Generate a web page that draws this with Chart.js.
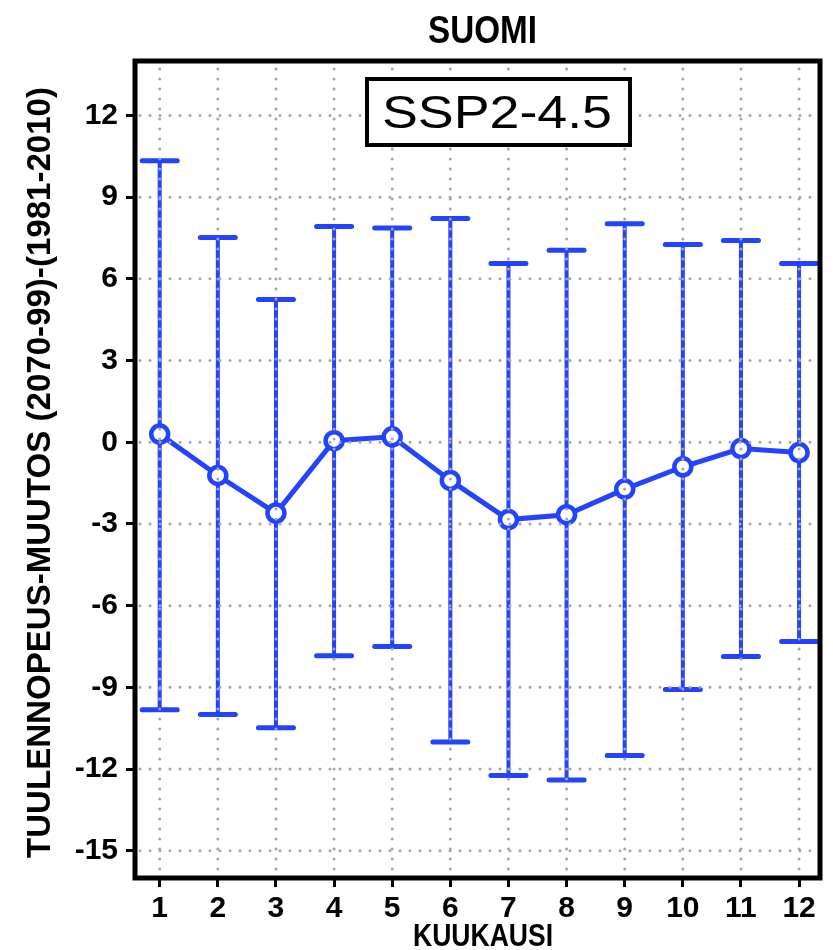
<!DOCTYPE html>
<html>
<head>
<meta charset="utf-8">
<script src="https://cdn.jsdelivr.net/npm/chart.js@4"></script>
<style>
  html, body { margin: 0; padding: 0; background: #fff; }
  canvas { display: block; }
</style>
</head>
<body>
<canvas id="c" width="833" height="950"></canvas>
<script>
// ---- data ----
const months = [1, 2, 3, 4, 5, 6, 7, 8, 9, 10, 11, 12];
const meanChange = [0.3, -1.22, -2.6, 0.06, 0.2, -1.4, -2.84, -2.66, -1.72, -0.9, -0.23, -0.38];
const upperLimit = [10.34, 7.52, 5.24, 7.92, 7.87, 8.22, 6.56, 7.05, 8.02, 7.26, 7.41, 6.56];
const lowerLimit = [-9.82, -10.0, -10.48, -7.84, -7.5, -11.01, -12.24, -12.4, -11.5, -9.08, -7.87, -7.32];
const yTickValues = [-15, -12, -9, -6, -3, 0, 3, 6, 9, 12];
const titleText = 'SUOMI';
const scenarioText = 'SSP2-4.5';
const xTitle = 'KUUKAUSI';
const yTitle = 'TUULENNOPEUS-MUUTOS (2070-99)-(1981-2010)';

const BLUE = '#2443ff';
const GRID = '#a6a6a6';
const FONT = "'Liberation Sans Narrow', 'Liberation Sans', Arial, sans-serif";

function fitText(ctx, text, cx, baseY, targetW, font, rotate) {
  ctx.save();
  ctx.font = font;
  const w = ctx.measureText(text).width;
  ctx.translate(cx, baseY);
  if (rotate) ctx.rotate(-Math.PI / 2);
  ctx.scale(targetW / w, 1);
  ctx.textAlign = 'center';
  ctx.textBaseline = 'alphabetic';
  ctx.fillStyle = '#000';
  ctx.fillText(text, 0, 0);
  ctx.restore();
}

const errorBars = {
  id: 'errorBars',
  beforeDatasetsDraw(chart) {
    const { ctx, scales: { x, y } } = chart;
    ctx.save();
    ctx.strokeStyle = BLUE;
    months.forEach((m, i) => {
      const px = x.getPixelForValue(m);
      const hi = y.getPixelForValue(upperLimit[i]);
      const lo = y.getPixelForValue(lowerLimit[i]);
      ctx.lineCap = 'butt';
      ctx.lineWidth = 4;
      ctx.beginPath();
      ctx.moveTo(px, hi);
      ctx.lineTo(px, lo);
      ctx.stroke();
      ctx.lineCap = 'round';
      ctx.lineWidth = 5;
      ctx.beginPath();
      ctx.moveTo(px - 17.5, hi); ctx.lineTo(px + 17.5, hi);
      ctx.moveTo(px - 17.5, lo); ctx.lineTo(px + 17.5, lo);
      ctx.stroke();
    });
    ctx.restore();
  }
};

const overlay = {
  id: 'overlay',
  afterDatasetsDraw(chart) {
    const { ctx, chartArea: a, scales: { x, y } } = chart;
    // dotted grid on top
    ctx.save();
    ctx.beginPath();
    ctx.rect(a.left, a.top, a.right - a.left, a.bottom - a.top);
    ctx.clip();
    ctx.strokeStyle = GRID;
    ctx.lineWidth = 3;
    ctx.lineCap = 'round';
    ctx.setLineDash([0, 10]);
    x.ticks.forEach(t => {
      const px = x.getPixelForValue(t.value);
      ctx.beginPath();
      ctx.moveTo(px, a.top + 8);
      ctx.lineTo(px, a.bottom);
      ctx.stroke();
    });
    y.ticks.forEach(t => {
      const py = y.getPixelForValue(t.value);
      ctx.beginPath();
      ctx.moveTo(a.left + 5, py);
      ctx.lineTo(a.right, py);
      ctx.stroke();
    });
    ctx.restore();
    // frame
    ctx.save();
    ctx.strokeStyle = '#000';
    ctx.lineWidth = 5;
    ctx.strokeRect(a.left, a.top, a.right - a.left, a.bottom - a.top);
    ctx.restore();
    // scenario box
    ctx.save();
    ctx.fillStyle = '#fff';
    ctx.strokeStyle = '#000';
    ctx.lineWidth = 4;
    ctx.fillRect(367, 79, 263, 66);
    ctx.strokeRect(367, 79, 263, 66);
    ctx.restore();
    fitText(ctx, scenarioText, 497, 128, 230, "46px 'Liberation Sans', Arial, sans-serif");
    // titles
    fitText(ctx, titleText, 482.5, 43, 109, 'bold 39px ' + FONT);
    fitText(ctx, xTitle, 483, 946, 140, 'bold 32px ' + FONT);
    fitText(ctx, yTitle, 50, 472.5, 771, 'bold 34px ' + FONT, true);
  }
};

new Chart(document.getElementById('c'), {
  type: 'line',
  data: {
    datasets: [{
      data: months.map((m, i) => ({ x: m, y: meanChange[i] })),
      borderColor: BLUE,
      borderWidth: 5,
      pointRadius: 8.5,
      pointBorderWidth: 4.5,
      pointBorderColor: BLUE,
      pointBackgroundColor: '#fff',
      tension: 0,
      fill: false
    }]
  },
  options: {
    responsive: false,
    animation: false,
    events: [],
    layout: { padding: { top: 61, right: 6, left: 0, bottom: 0 } },
    plugins: { legend: { display: false }, tooltip: { enabled: false }, title: { display: false } },
    scales: {
      x: {
        type: 'linear',
        min: 0.575,
        max: 12.36,
        afterBuildTicks: s => { s.ticks = months.map(v => ({ value: v })); },
        afterFit: s => { s.height = 72; },
        grid: { drawOnChartArea: false, drawTicks: true, tickLength: 9, tickWidth: 3, tickColor: '#000' },
        border: { display: false },
        ticks: { color: '#000', font: { family: FONT, size: 30, weight: 'bold' }, padding: 4, autoSkip: false, maxRotation: 0 }
      },
      y: {
        type: 'linear',
        min: -16,
        max: 14,
        afterBuildTicks: s => { s.ticks = yTickValues.map(v => ({ value: v })); },
        afterFit: s => { s.width = 135; },
        grid: { drawOnChartArea: false, drawTicks: true, tickLength: 9, tickWidth: 3, tickColor: '#000' },
        border: { display: false },
        ticks: { color: '#000', font: { family: FONT, size: 30, weight: 'bold' }, padding: 8, autoSkip: false }
      }
    }
  },
  plugins: [errorBars, overlay]
});
</script>
</body>
</html>
